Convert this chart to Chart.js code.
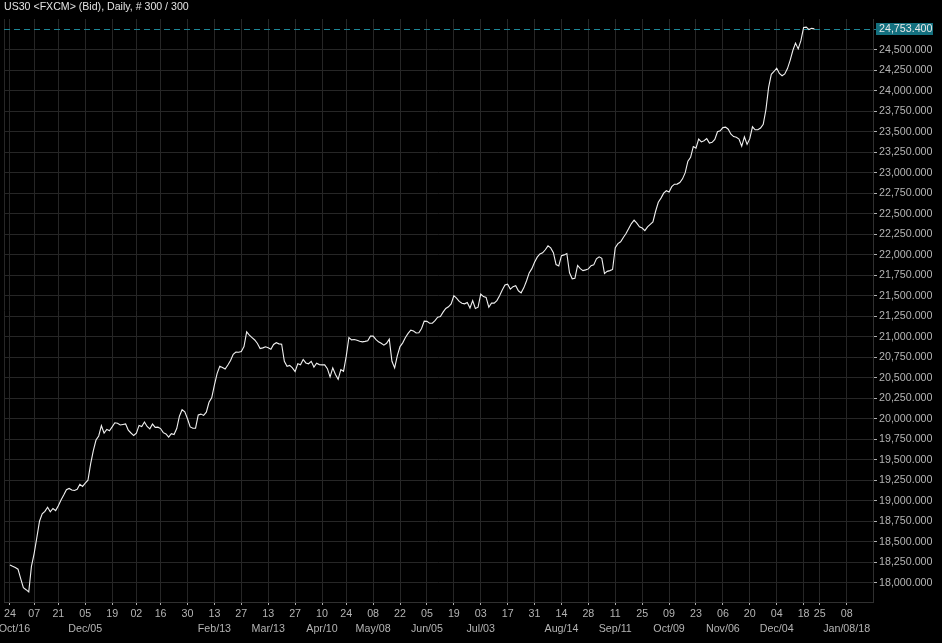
<!DOCTYPE html>
<html>
<head>
<meta charset="utf-8">
<title>US30 Daily</title>
<script src="https://cdn.jsdelivr.net/npm/chart.js@4.4.0/dist/chart.umd.min.js"></script>
<style>
  html, body { margin: 0; padding: 0; background: #000; }
  #wrap { width: 942px; height: 643px; position: relative; }
</style>
</head>
<body>
<div id="wrap"><canvas id="chart"></canvas></div>
<script>
// daily bid closes, 300 bars (Oct 24 2016 .. Dec 22 2017)
const closes = [
  18216, 18200, 18185, 18165, 18050, 17940, 17915, 17888, 18200, 18355,
  18550, 18750, 18840, 18870, 18920, 18865, 18905, 18880, 18940, 19010,
  19070, 19135, 19150, 19130, 19125, 19140, 19200, 19175, 19215, 19250,
  19450, 19610, 19740, 19790, 19915, 19825, 19870, 19853, 19900, 19950,
  19945, 19924, 19930, 19936, 19860, 19826, 19795, 19825, 19918, 19905,
  19960, 19905, 19877, 19935, 19895, 19897, 19880, 19830, 19815, 19775,
  19818, 19808, 19880, 20030, 20110, 20085, 20000, 19900, 19884, 19884,
  20046, 20056, 20040, 20080, 20200, 20255, 20410, 20550, 20640, 20625,
  20606, 20655, 20710, 20785, 20812, 20810, 20820, 20880, 21060, 21020,
  20990, 20960, 20918, 20855, 20864, 20877, 20866, 20848, 20905, 20927,
  20913, 20909, 20700, 20640, 20650, 20620, 20575, 20670, 20658, 20722,
  20680, 20670, 20700, 20630, 20676, 20660, 20656, 20656, 20610, 20510,
  20620, 20540, 20480, 20600, 20578, 20760, 20990, 20962, 20966, 20958,
  20945, 20937, 20943, 20950, 21007, 21008, 20968, 20938, 20920, 20897,
  20920, 20970, 20700, 20620, 20770, 20880, 20925, 20990, 21040, 21079,
  21070, 21045, 21048, 21100, 21190, 21187, 21165, 21165, 21196, 21238,
  21245, 21300, 21345, 21365, 21400, 21500, 21470, 21430, 21408, 21401,
  21418, 21350, 21440, 21345, 21360, 21520, 21489, 21479, 21360, 21410,
  21410, 21440, 21500, 21570, 21630, 21641, 21580, 21610, 21623, 21560,
  21535, 21596, 21680, 21778, 21830, 21908, 21970, 22009, 22023, 22060,
  22108, 22083, 22025, 21880, 21863, 21988, 21998, 22015, 21780, 21706,
  21712, 21870, 21830, 21806, 21815, 21827, 21866, 21876, 21950, 21974,
  21955, 21770, 21797, 21806, 21820, 22085, 22135, 22157, 22210, 22258,
  22320, 22380, 22422, 22385, 22340, 22325, 22293, 22340, 22370, 22400,
  22530, 22640, 22690, 22750, 22780, 22765, 22830, 22860, 22861, 22880,
  22925, 23000, 23140, 23188, 23318, 23300, 23410, 23375, 23390, 23415,
  23362, 23370, 23405, 23500, 23511, 23550, 23556, 23530, 23470, 23440,
  23432, 23410, 23322, 23438, 23345, 23415, 23560, 23523, 23523, 23545,
  23590, 23770, 24040, 24200, 24234, 24275, 24210, 24182, 24205, 24270,
  24370, 24490, 24580, 24510, 24610, 24770, 24775, 24745, 24760, 24753.4,
];

// bar index of each date tick, with its day and month/year label
const tickBars = [0, 9, 18, 28, 38, 47, 56, 66, 76, 86, 96, 106, 116, 125, 135, 145, 155,
  165, 175, 185, 195, 205, 215, 225, 235, 245, 255, 265, 275, 285, 295, 301, 311];
const dayLabels = ['24', '07', '21', '05', '19', '02', '16', '30', '13', '27', '13', '27', '10',
  '24', '08', '22', '05', '19', '03', '17', '31', '14', '28', '11', '25', '09', '23', '06', '20',
  '04', '18', '25', '08'];
const monthLabels = ['   Oct/16', '', '', 'Dec/05', '', '', '', '', 'Feb/13', '', 'Mar/13', '',
  'Apr/10', '', 'May/08', '', 'Jun/05', '', 'Jul/03', '', '', 'Aug/14', '', 'Sep/11', '',
  'Oct/09', '', 'Nov/06', '', 'Dec/04', '', '', 'Jan/08/18'];

const X_MIN = -2.2;
const X_MAX = 320.8;
const Y_MIN = 17765;
const Y_MAX = 24874;
const lastPrice = closes[closes.length - 1];

const fmt = v => v.toLocaleString('en-US', { minimumFractionDigits: 3, maximumFractionDigits: 3 });

// dashed last-price line and the boxed price on the axis
const lastPricePlugin = {
  id: 'lastPrice',
  beforeDatasetsDraw(chart) {
    const { ctx, chartArea } = chart;
    const y = Math.round(chart.scales.y.getPixelForValue(lastPrice)) + 0.5;
    ctx.save();
    ctx.strokeStyle = '#1e8595';
    ctx.lineWidth = 1;
    ctx.setLineDash([6, 4]);
    ctx.beginPath();
    ctx.moveTo(chartArea.left, y);
    ctx.lineTo(chartArea.right + 3, y);
    ctx.stroke();
    ctx.restore();
  },
  afterDraw(chart) {
    const { ctx, chartArea } = chart;
    const y = Math.round(chart.scales.y.getPixelForValue(lastPrice));
    ctx.save();
    ctx.fillStyle = '#14707f';
    ctx.fillRect(chartArea.right + 3, y - 6, 57, 12);
    ctx.fillStyle = '#e8e8e8';
    ctx.font = '10.7px "Liberation Sans", Arial, sans-serif';
    ctx.textBaseline = 'middle';
    ctx.fillText(fmt(lastPrice), chartArea.right + 6, y + 0.5);
    ctx.restore();
  }
};

const ctx = document.getElementById('chart').getContext('2d');
Chart.defaults.font.family = '"Liberation Sans", Arial, sans-serif';

new Chart(ctx, {
  type: 'line',
  data: {
    datasets: [{
      data: closes.map((v, i) => ({ x: i, y: v })),
      borderColor: '#f0f0f0',
      borderWidth: 1.1,
      pointRadius: 0,
      tension: 0,
      fill: false,
    }]
  },
  options: {
    responsive: true,
    maintainAspectRatio: false,
    animation: false,
    layout: { padding: { left: 4, right: 0, top: 0, bottom: 0 } },
    plugins: {
      legend: { display: false },
      tooltip: { enabled: false },
      title: {
        display: true,
        text: 'US30 <FXCM> (Bid), Daily, # 300 / 300',
        align: 'start',
        color: '#e2e2e2',
        font: { size: 10.6, weight: 'normal', lineHeight: 1.2 },
        padding: { top: 0.6, bottom: 5.7 },
      },
    },
    scales: {
      x: {
        type: 'linear',
        min: X_MIN,
        max: X_MAX,
        afterBuildTicks(scale) {
          scale.ticks = [X_MIN].concat(tickBars, [X_MAX]).map(v => ({ value: v }));
        },
        afterFit(scale) {
          scale.height = 41;
        },
        ticks: {
          autoSkip: false,
          maxRotation: 0,
          color: '#b4b4b4',
          font: { size: 10.7, lineHeight: 1.4 },
          padding: 2,
          callback(value) {
            const k = tickBars.indexOf(value);
            if (k < 0) return '';
            return [dayLabels[k], monthLabels[k]];
          },
        },
        grid: {
          color: '#262626',
          tickLength: 3,
          tickColor: c => (tickBars.includes(c.tick && c.tick.value) ? '#b0b0b0' : 'rgba(0,0,0,0)'),
        },
        border: { color: '#303030' },
      },
      y: {
        position: 'right',
        min: Y_MIN,
        max: Y_MAX,
        afterBuildTicks(scale) {
          const t = [];
          for (let v = 18000; v <= 24500; v += 250) t.push({ value: v });
          scale.ticks = t;
        },
        afterFit(scale) {
          scale.width = 69;
        },
        ticks: {
          color: '#b4b4b4',
          font: { size: 10.7 },
          padding: 2,
          callback: v => fmt(v),
        },
        grid: {
          color: '#262626',
          tickLength: 4,
          tickColor: '#b0b0b0',
        },
        border: { color: '#303030' },
      },
    },
  },
  plugins: [lastPricePlugin],
});
</script>
</body>
</html>
